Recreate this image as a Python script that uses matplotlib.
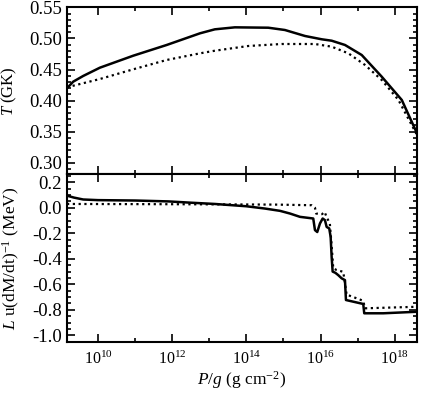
import numpy as np
import matplotlib
matplotlib.use("Agg")
import matplotlib.pyplot as plt
from matplotlib.ticker import FixedLocator, FormatStrFormatter, MultipleLocator, NullFormatter

plt.rcParams['font.family'] = ['Liberation Serif', 'DejaVu Serif']
plt.rcParams['mathtext.fontset'] = 'custom'
plt.rcParams['mathtext.rm'] = 'Liberation Serif'
plt.rcParams['mathtext.it'] = 'Liberation Serif:italic'
plt.rcParams['axes.unicode_minus'] = False

# temperature, solid curve (log10 of P/g, T in GK)
logP_T_solid = [9.164, 9.33, 9.60, 10.05, 10.95, 11.85, 12.75, 13.15, 13.69, 14.59,
                15.04, 15.58, 16.03, 16.30, 16.66, 17.11, 17.65, 18.19, 18.60]
T_solid = [0.4198, 0.4304, 0.4396, 0.4529, 0.4722, 0.4894, 0.5082, 0.5146, 0.5178, 0.5172,
           0.5135, 0.5039, 0.4986, 0.4963, 0.4894, 0.4733, 0.4384, 0.4010, 0.3474]

# temperature, dotted curve
logP_T_dot = [9.164, 10.05, 10.95, 11.85, 12.75, 13.15, 14.05, 14.95, 15.85, 16.30,
              16.75, 17.20, 17.65, 18.10, 18.60]
T_dot = [0.4214, 0.4347, 0.4503, 0.4653, 0.4760, 0.4802, 0.4878, 0.4910, 0.4910, 0.4867,
         0.4760, 0.4572, 0.4331, 0.4010, 0.3447]

# L u (dM/dt)^-1, solid curve
logP_L_solid = [9.164, 9.35, 9.60, 10.0, 11.0, 11.9, 12.5, 13.15, 14.0, 14.5,
                14.906, 15.175, 15.445, 15.803, 15.849, 15.911, 15.984, 16.057, 16.119, 16.164,
                16.234, 16.272, 16.299, 16.326, 16.40, 16.477, 16.569, 16.658, 16.685, 16.881,
                17.151, 17.178, 17.69, 18.60]
L_solid = [0.095, 0.08, 0.065, 0.060, 0.057, 0.050, 0.040, 0.030, 0.012, -0.006,
           -0.024, -0.045, -0.071, -0.084, -0.175, -0.19, -0.123, -0.084, -0.097, -0.15,
           -0.162, -0.228, -0.385, -0.50, -0.51, -0.528, -0.553, -0.567, -0.723, -0.736,
           -0.754, -0.827, -0.827, -0.815]

# L u (dM/dt)^-1, dotted curve
logP_L_dot = [9.164, 12.0, 14.8, 15.76, 15.85, 15.88, 16.04, 16.11, 16.16, 16.25,
              16.30, 16.342, 16.434, 16.612, 16.704, 16.792, 17.151, 17.197, 18.60]
L_dot = [0.030, 0.028, 0.025, 0.020, 0.0, -0.045, -0.05, -0.032, -0.071, -0.123,
         -0.30, -0.475, -0.488, -0.502, -0.684, -0.69, -0.729, -0.788, -0.776]

x_major = [1e10, 1e12, 1e14, 1e16, 1e18]
x_minor = [1e9, 1e11, 1e13, 1e15, 1e17, 1e19]

fig = plt.figure(figsize=(4.29, 3.93), dpi=100)
ax1 = fig.add_axes([0.1562, 0.5573, 0.8158, 0.4241])
ax2 = fig.add_axes([0.1562, 0.1298, 0.8158, 0.4275], sharex=ax1)

ax1.plot(10**np.array(logP_T_solid), T_solid, 'k-', lw=1.8)
ax1.plot(10**np.array(logP_T_dot), T_dot, color='k', ls=(0, (1, 1.6)), lw=1.6)
ax2.plot(10**np.array(logP_L_solid), L_solid, 'k-', lw=1.8)
ax2.plot(10**np.array(logP_L_dot), L_dot, color='k', ls=(0, (1, 1.6)), lw=1.6)

ax1.set_xscale('log')
ax1.set_xlim(10**9.164, 10**18.6)
ax1.set_ylim(0.282, 0.55)
ax2.set_ylim(-1.052, 0.265)

for ax in (ax1, ax2):
    ax.xaxis.set_major_locator(FixedLocator(x_major))
    ax.xaxis.set_minor_locator(FixedLocator(x_minor))
    ax.xaxis.set_minor_formatter(NullFormatter())
    ax.tick_params(which='both', direction='in', top=True, right=True, width=1.2)
    ax.tick_params(which='major', length=6)
    ax.tick_params(which='minor', length=3.2)
    ax.tick_params(axis='y', labelsize=13.5)
    ax.tick_params(axis='x', labelsize=11.5, pad=6)
    for s in ax.spines.values():
        s.set_linewidth(1.5)

ax1.yaxis.set_major_locator(MultipleLocator(0.05))
ax1.yaxis.set_minor_locator(MultipleLocator(0.01))
ax1.yaxis.set_major_formatter(FormatStrFormatter('%.2f'))
ax2.yaxis.set_major_locator(MultipleLocator(0.2))
ax2.yaxis.set_minor_locator(MultipleLocator(0.05))
ax2.yaxis.set_major_formatter(FormatStrFormatter('%.1f'))
ax1.tick_params(axis='x', labelbottom=False)

ax1.set_ylabel('$T$ (GK)', fontsize=12)
ax2.set_ylabel('$L$ u(dM/dt)$^{-1}$ (MeV)', fontsize=12.5)
ax2.set_xlabel('$P/g$ (g cm$^{-2}$)', fontsize=12.5)
ax1.yaxis.set_label_coords(-0.138, 0.5)
ax2.yaxis.set_label_coords(-0.128, 0.5)
ax2.xaxis.set_label_coords(0.5, -0.16)

fig.savefig('out.png', dpi=100)
